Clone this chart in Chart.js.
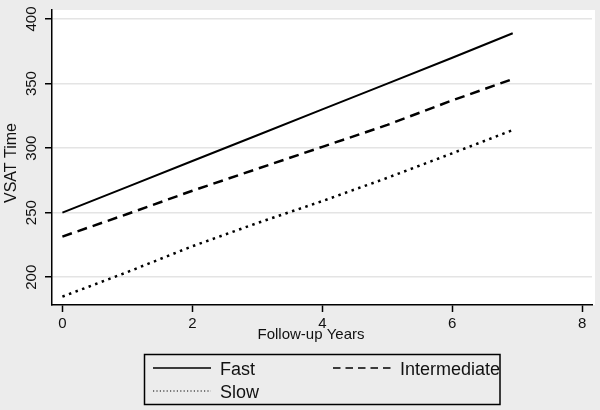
<!DOCTYPE html>
<html>
<head>
<meta charset="utf-8">
<script src="https://cdn.jsdelivr.net/npm/chart.js@4.4.1/dist/chart.umd.min.js"></script>
<style>
  html, body { margin: 0; padding: 0; background: #ececec; }
</style>
</head>
<body>
<canvas id="myChart" width="600" height="410"></canvas>
<script>
'use strict'
// values
let years = [0, 1, 2, 3, 4, 5, 6, 6.93];
let fastTimes = [250, 270, 290, 310, 330, 350, 370, 389];
let intermediateTimes = [231.5, 249, 267, 284, 301, 318, 337, 353.5];
let slowTimes = [185, 204, 224, 242, 259, 277, 296, 314];
let groupNames = ['Fast', 'Intermediate', 'Slow'];
let xTicks = [0, 2, 4, 6, 8];
let yTicks = [200, 250, 300, 350, 400];

let fontFamily = '"Liberation Sans", Arial, sans-serif';
Chart.defaults.font.family = fontFamily;

function toPoints(values) {
  let pts = [];
  for (let i = 0; i < values.length; i++) {
    pts.push({ x: years[i], y: values[i] });
  }
  return pts;
}

// gray page, white plot region
const backdrop = {
  id: 'backdrop',
  beforeDraw(chart) {
    let ctx = chart.ctx;
    ctx.save();
    ctx.fillStyle = '#ececec';
    ctx.fillRect(0, 0, chart.width, chart.height);
    ctx.fillStyle = '#ffffff';
    let a = chart.chartArea;
    ctx.fillRect(a.left, a.top, a.right - a.left + 3, a.bottom - a.top);
    ctx.restore();
  }
};

// axis titles + boxed legend like the stata one
const extras = {
  id: 'extras',
  afterDraw(chart) {
    let ctx = chart.ctx;
    ctx.save();
    ctx.fillStyle = '#111';
    ctx.font = '15px ' + fontFamily;
    ctx.textAlign = 'center';
    ctx.textBaseline = 'middle';
    ctx.fillText('Follow-up Years', 311, 335);
    ctx.font = '16px ' + fontFamily;
    ctx.translate(12, 163);
    ctx.rotate(-Math.PI / 2);
    ctx.fillText('VSAT Time', 0, 0);
    ctx.restore();

    ctx.save();
    ctx.strokeStyle = '#000';
    ctx.lineWidth = 1.5;
    ctx.strokeRect(144.5, 354.5, 355.5, 50);
    let spots = [[153, 368], [333, 368], [153, 391]];
    let dashes = [[], [7.5, 5], [1.2, 2.2]];
    let widths = [1.5, 1.5, 1.2];
    ctx.font = '18px ' + fontFamily;
    ctx.textAlign = 'left';
    ctx.textBaseline = 'middle';
    chart.data.datasets.forEach((ds, i) => {
      let [sx, sy] = spots[i];
      ctx.beginPath();
      ctx.setLineDash(dashes[i]);
      ctx.lineWidth = widths[i];
      ctx.moveTo(sx, sy);
      ctx.lineTo(sx + 58, sy);
      ctx.stroke();
      ctx.setLineDash([]);
      ctx.fillStyle = '#111';
      ctx.fillText(ds.label, sx + 67, sy + 2);
    });
    ctx.restore();
  }
};

const ctx = document.getElementById('myChart');

new Chart(ctx, {
  type: 'line',
  data: {
    datasets: [
      {
        label: groupNames[0],
        data: toPoints(fastTimes),
        borderColor: '#000',
        borderWidth: 2,
        pointRadius: 0
      },
      {
        label: groupNames[1],
        data: toPoints(intermediateTimes),
        borderColor: '#000',
        borderWidth: 2.5,
        borderDash: [10, 6],
        pointRadius: 0
      },
      {
        label: groupNames[2],
        data: toPoints(slowTimes),
        borderColor: '#000',
        borderWidth: 2.5,
        borderDash: [2.5, 4.5],
        pointRadius: 0
      }
    ]
  },
  options: {
    responsive: false,
    animation: false,
    layout: { padding: { left: 0, top: 7, right: 8, bottom: 0 } },
    plugins: {
      legend: { display: false },
      tooltip: { enabled: false }
    },
    scales: {
      x: {
        type: 'linear',
        min: -0.16,
        max: 8.15,
        afterBuildTicks: scale => { scale.ticks = xTicks.map(v => ({ value: v })); },
        afterFit: scale => { scale.height = 105; },
        grid: { drawOnChartArea: false, tickLength: 7, tickColor: '#000', tickWidth: 1.5 },
        border: { color: '#000', width: 1.5 },
        ticks: { color: '#111', font: { size: 15 }, padding: 3, maxRotation: 0 }
      },
      y: {
        min: 178.5,
        max: 407,
        afterBuildTicks: scale => { scale.ticks = yTicks.map(v => ({ value: v })); },
        afterFit: scale => { scale.width = 52; },
        grid: { color: '#e4e4e4', lineWidth: 1.5, tickLength: 7, tickColor: '#000', tickWidth: 1.5 },
        border: { color: '#000', width: 1.5 },
        ticks: { color: '#111', font: { size: 15 }, padding: 1, minRotation: 90, maxRotation: 90, crossAlign: 'center' }
      }
    }
  },
  plugins: [backdrop, extras]
});
</script>
</body>
</html>
